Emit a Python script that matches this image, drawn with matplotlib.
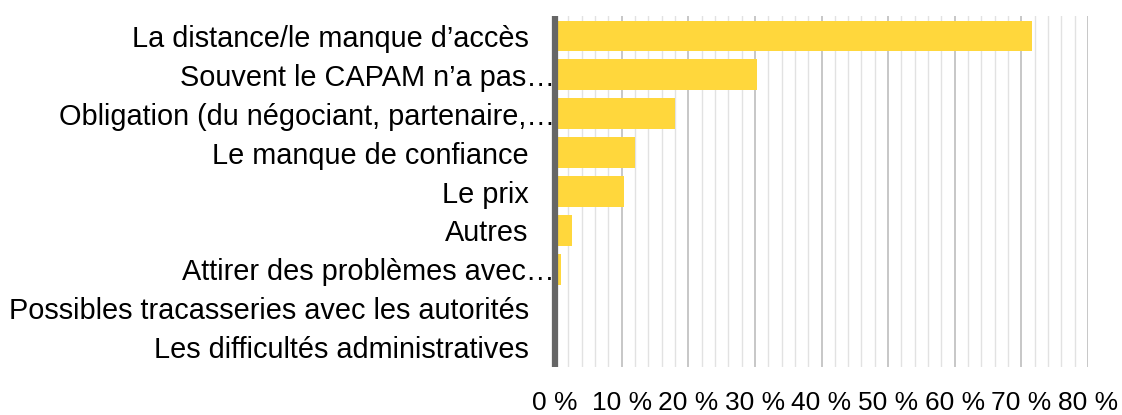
import matplotlib
matplotlib.use("Agg")
import matplotlib.pyplot as plt
import matplotlib.transforms as mtransforms
from matplotlib.ticker import MultipleLocator

categories = [
    "La distance/le manque d\u2019accès",
    "Souvent le CAPAM n\u2019a pas\u2026",
    "Obligation (du négociant, partenaire,\u2026",
    "Le manque de confiance",
    "Le prix",
    "Autres",
    "Attirer des problèmes avec\u2026",
    "Possibles tracasseries avec les autorités",
    "Les difficultés administratives",
]
values = [71.6, 30.3, 18.0, 12.0, 10.3, 2.6, 0.9, 0.0, 0.0]
xticks = [0, 10, 20, 30, 40, 50, 60, 70, 80]
xticklabels = [f"{t} %" for t in xticks]

plt.rcParams['font.family'] = ['Liberation Sans', 'DejaVu Sans']

fig = plt.figure(figsize=(11.22, 4.15), dpi=100)
ax = fig.add_axes([0.4947, 0.1157, 0.9697 - 0.4947, 0.9614 - 0.1157])

y = list(range(len(categories)))
ax.barh(y, values, height=0.77, color="#FFD73C", zorder=3)
ax.set_ylim(len(categories) - 0.5, -0.5)
ax.set_xlim(0, 80)

ax.set_xticks(xticks)
ax.set_xticklabels(xticklabels, fontsize=19)
ax.xaxis.set_minor_locator(MultipleLocator(2))
ax.grid(axis="x", which="major", color="#bdbdbd", linewidth=1.2, zorder=0)
ax.grid(axis="x", which="minor", color="#e2e2e2", linewidth=1.0, zorder=0)
ax.tick_params(axis="x", which="both", length=0, pad=17)

ax.set_yticks(y)
ax.set_yticklabels(categories, fontsize=20.8)
ax.tick_params(axis="y", length=0, pad=19)

for lab in ax.get_yticklabels():
    if lab.get_text().endswith("\u2026"):
        lab.set_transform(lab.get_transform() + mtransforms.ScaledTranslation(26 / 100, 0, fig.dpi_scale_trans))

for s in ["top", "right", "bottom"]:
    ax.spines[s].set_visible(False)
ax.spines["left"].set_color("#666666")
ax.spines["left"].set_linewidth(4.5)
ax.spines["left"].set_capstyle("butt")
ax.spines["left"].set_zorder(4)

fig.savefig("out.png", dpi=100)
